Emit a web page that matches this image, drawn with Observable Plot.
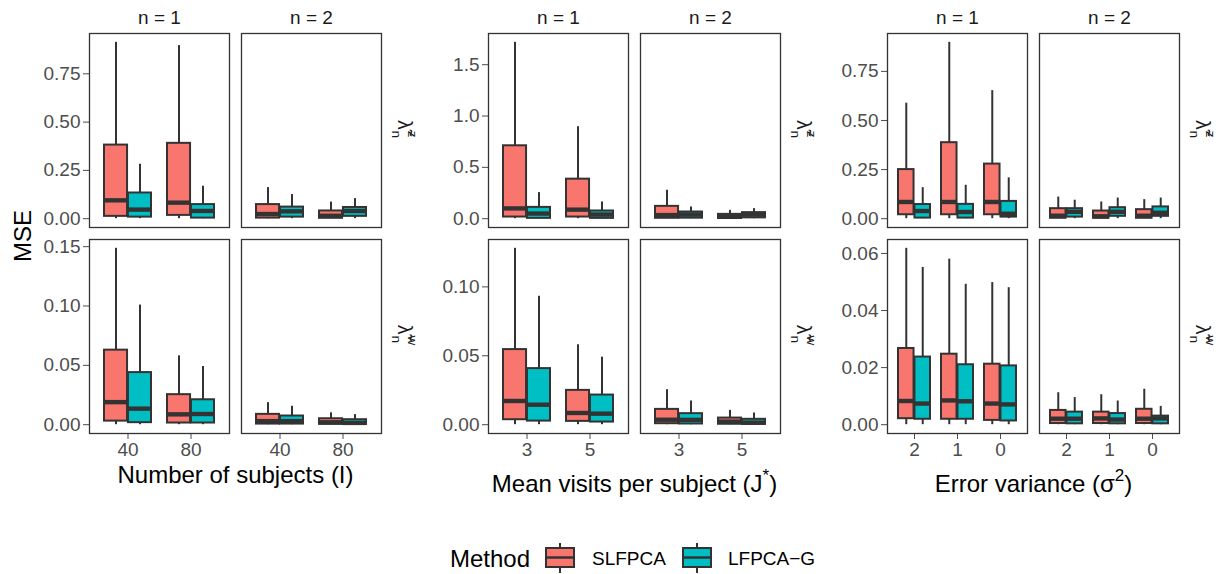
<!DOCTYPE html>
<html><head><meta charset="utf-8">
<script src="https://cdn.jsdelivr.net/npm/d3@7"></script>
<script src="https://cdn.jsdelivr.net/npm/@observablehq/plot@0.6"></script>
<style>
body{margin:0;background:#fff;font-family:"Liberation Sans",Arial,sans-serif;}
#root{position:relative;width:1223px;height:574px;overflow:hidden;background:#fff;}
.cell{position:absolute;}
.cell svg{overflow:visible;}
[aria-label^="fx-axis"] text{fill:#1A1A1A;}
</style></head><body><div id="root"></div>
<script>
// ---------------- data ----------------
const methods = ["SLFPCA", "LFPCA\u2212G"];
const nLevels = ["n = 1", "n = 2"];
const subjectLevels = ["40", "80"];
const visitLevels = ["3", "5"];
const errorLevels = ["2", "1", "0"];
// columns: n, level, method, lower whisker, q1, median, q3, upper whisker
const subjectsZ = [
  ["n = 1","40","SLFPCA",0,0.012,0.095,0.381,0.913],
  ["n = 1","40","LFPCA\u2212G",0,0.008,0.047,0.133,0.282],
  ["n = 1","80","SLFPCA",0,0.017,0.083,0.390,0.896],
  ["n = 1","80","LFPCA\u2212G",0,0.003,0.040,0.073,0.168],
  ["n = 2","40","SLFPCA",0,0.003,0.024,0.073,0.161],
  ["n = 2","40","LFPCA\u2212G",0,0.008,0.038,0.060,0.125],
  ["n = 2","80","SLFPCA",0,0.002,0.015,0.040,0.086],
  ["n = 2","80","LFPCA\u2212G",0,0.012,0.040,0.058,0.104]
];
const subjectsW = [
  ["n = 1","40","SLFPCA",0,0.0030,0.0190,0.0628,0.1486],
  ["n = 1","40","LFPCA\u2212G",0,0.0017,0.0135,0.0439,0.1008],
  ["n = 1","80","SLFPCA",0,0.0014,0.0087,0.0253,0.0580],
  ["n = 1","80","LFPCA\u2212G",0,0.0014,0.0090,0.0210,0.0490],
  ["n = 2","40","SLFPCA",0,0.0005,0.0030,0.0087,0.0186],
  ["n = 2","40","LFPCA\u2212G",0,0.0005,0.0030,0.0073,0.0155],
  ["n = 2","80","SLFPCA",0,0.0003,0.0020,0.0050,0.0100],
  ["n = 2","80","LFPCA\u2212G",0,0.0002,0.0015,0.0042,0.0085]
];
const visitsZ = [
  ["n = 1","3","SLFPCA",0,0.016,0.100,0.710,1.718],
  ["n = 1","3","LFPCA\u2212G",0,0.003,0.050,0.110,0.254],
  ["n = 1","5","SLFPCA",0,0.016,0.088,0.385,0.896],
  ["n = 1","5","LFPCA\u2212G",0,0.003,0.040,0.075,0.163],
  ["n = 2","3","SLFPCA",0,0.004,0.035,0.120,0.277],
  ["n = 2","3","LFPCA\u2212G",0,0.005,0.040,0.065,0.114],
  ["n = 2","5","SLFPCA",0,0.002,0.020,0.042,0.081],
  ["n = 2","5","LFPCA\u2212G",0,0.008,0.040,0.059,0.098]
];
const visitsW = [
  ["n = 1","3","SLFPCA",0,0.0036,0.0172,0.0545,0.1280],
  ["n = 1","3","LFPCA\u2212G",0,0.0026,0.0145,0.0407,0.0932],
  ["n = 1","5","SLFPCA",0,0.0024,0.0085,0.0249,0.0580],
  ["n = 1","5","LFPCA\u2212G",0,0.0019,0.0080,0.0215,0.0490],
  ["n = 2","3","SLFPCA",0,0.0007,0.0036,0.0111,0.0254],
  ["n = 2","3","LFPCA\u2212G",0,0.0005,0.0035,0.0080,0.0172],
  ["n = 2","5","SLFPCA",0,0.0003,0.0022,0.0048,0.0104],
  ["n = 2","5","LFPCA\u2212G",0,0.0002,0.0015,0.0039,0.0085]
];
const errorZ = [
  ["n = 1","2","SLFPCA",0,0.020,0.085,0.250,0.588],
  ["n = 1","2","LFPCA\u2212G",0,0.003,0.039,0.072,0.158],
  ["n = 1","1","SLFPCA",0,0.020,0.085,0.387,0.898],
  ["n = 1","1","LFPCA\u2212G",0,0.003,0.034,0.073,0.170],
  ["n = 1","0","SLFPCA",0,0.020,0.085,0.278,0.652],
  ["n = 1","0","LFPCA\u2212G",0,0.008,0.025,0.088,0.208],
  ["n = 2","2","SLFPCA",0,0.002,0.015,0.051,0.110],
  ["n = 2","2","LFPCA\u2212G",0,0.008,0.035,0.051,0.094],
  ["n = 2","1","SLFPCA",0,0.002,0.012,0.039,0.085],
  ["n = 2","1","LFPCA\u2212G",0,0.012,0.035,0.056,0.105],
  ["n = 2","0","SLFPCA",0,0.002,0.015,0.046,0.097],
  ["n = 2","0","LFPCA\u2212G",0,0.012,0.030,0.060,0.105]
];
const errorW = [
  ["n = 1","2","SLFPCA",0,0.0021,0.0083,0.0267,0.0618],
  ["n = 1","2","LFPCA\u2212G",0,0.0019,0.0074,0.0237,0.0551],
  ["n = 1","1","SLFPCA",0,0.0019,0.0085,0.0247,0.0580],
  ["n = 1","1","LFPCA\u2212G",0,0.0019,0.0082,0.0210,0.0492],
  ["n = 1","0","SLFPCA",0,0.0015,0.0074,0.0212,0.0498],
  ["n = 1","0","LFPCA\u2212G",0,0.0013,0.0071,0.0206,0.0480],
  ["n = 2","2","SLFPCA",0,0.0004,0.0021,0.0050,0.0112],
  ["n = 2","2","LFPCA\u2212G",0,0.0003,0.0021,0.0044,0.0095],
  ["n = 2","1","SLFPCA",0,0.0004,0.0022,0.0044,0.0105],
  ["n = 2","1","LFPCA\u2212G",0,0.0003,0.0018,0.0039,0.0083],
  ["n = 2","0","SLFPCA",0,0.0004,0.0021,0.0054,0.0124],
  ["n = 2","0","LFPCA\u2212G",0,0.0003,0.0022,0.0030,0.0064]
];
const methodColors = ["#F8766D", "#00BFC4"];

// ---------------- layout ----------------
const FONT = "Liberation Sans, Arial, Helvetica, sans-serif";
const panelW = 140.5, gap = 12, panelH = 194;
const toRows = a => a.map(([n, level, method, lo, q1, med, q3, hi]) => ({n, level, method, lo, q1, med, q3, hi}));

const groups = [
  {levels: subjectLevels, z: subjectsZ, w: subjectsW, svgLeft: 0, svgWidth: 410, panelLeft: 89,
   zTicks: [0, 0.25, 0.5, 0.75], zFmt: ".2f", wTicks: [0, 0.05, 0.1, 0.15], wFmt: ".2f"},
  {levels: visitLevels, z: visitsZ, w: visitsW, svgLeft: 410, svgWidth: 400, panelLeft: 488,
   zTicks: [0, 0.5, 1, 1.5], zFmt: ".1f", wTicks: [0, 0.05, 0.1], wFmt: ".2f"},
  {levels: errorLevels, z: errorZ, w: errorW, svgLeft: 810, svgWidth: 413, panelLeft: 887,
   zTicks: [0, 0.25, 0.5, 0.75], zFmt: ".2f", wTicks: [0, 0.02, 0.04, 0.06], wFmt: ".2f"}
];

const root = document.getElementById("root");

function makePanel(g, raw, ticks, fmt, isTop) {
  const rows = toRows(raw);
  const lo = d3.min(rows, d => d.lo), hi = d3.max(rows, d => d.hi);
  const pad = 0.05 * (hi - lo);
  const nLev = g.levels.length;
  const step = panelW / (nLev - 0.25 + 0.45);
  const bw = 0.75 * step;
  const top = isTop ? 0 : 232;
  const height = isTop ? 232 : 268;
  const marginTop = isTop ? 33 : 7;
  const marginBottom = height - marginTop - panelH;
  const marginLeft = g.panelLeft - g.svgLeft;
  const marginRight = g.svgWidth - marginLeft - (2 * panelW + gap);
  const marks = [];
  methods.forEach((m, i) => {
    const keep = d => d.method === m;
    const off = (i === 0 ? -1 : 1) * bw / 4;
    const insL = i === 0 ? 0 : bw / 2, insR = i === 0 ? bw / 2 : 0;
    marks.push(Plot.ruleX(rows, {filter: keep, x: "level", y1: "lo", y2: "hi", dx: off, stroke: "#333333", strokeWidth: 2}));
    marks.push(Plot.barY(rows, {filter: keep, x: "level", y1: "q1", y2: "q3", fill: "method", stroke: "#333333", strokeWidth: 2, insetLeft: insL, insetRight: insR}));
    marks.push(Plot.tickY(rows, {filter: keep, x: "level", y: "med", stroke: "#333333", strokeWidth: 4.4, insetLeft: insL, insetRight: insR}));
  });
  marks.push(Plot.frame({stroke: "#333333", strokeWidth: 1.3}));
  const chart = Plot.plot({
    width: g.svgWidth, height, marginTop, marginBottom, marginLeft, marginRight,
    style: {fontFamily: FONT, fontSize: "19px", color: "#4D4D4D", background: "transparent", overflow: "visible"},
    facet: {data: rows, x: "n"},
    fx: {domain: nLevels, paddingInner: gap / (panelW + gap), paddingOuter: 0, axis: isTop ? "top" : null, label: null, tickSize: 0, tickPadding: 10},
    x: {domain: g.levels, paddingInner: 0.25, paddingOuter: 0.225, axis: isTop ? null : "bottom", label: null, tickSize: 6, tickPadding: 3},
    y: {domain: [lo - pad, hi + pad], ticks, tickFormat: d3.format(fmt), label: null, tickSize: 6, tickPadding: 3, nice: false},
    color: {domain: methods, range: methodColors},
    marks
  });
  const div = document.createElement("div");
  div.className = "cell";
  div.style.left = g.svgLeft + "px";
  div.style.top = top + "px";
  div.appendChild(chart);
  root.appendChild(div);
}

groups.forEach(g => {
  makePanel(g, g.z, g.zTicks, g.zFmt, true);
  makePanel(g, g.w, g.wTicks, g.wFmt, false);
});

// ---------------- overlay texts: titles, strips, legend ----------------
const ov = d3.select(root).append("svg")
  .attr("width", 1223).attr("height", 574)
  .style("position", "absolute").style("left", 0).style("top", 0)
  .style("font-family", FONT);

ov.append("text").attr("transform", "translate(31,236) rotate(-90)")
  .attr("text-anchor", "middle").attr("font-size", 24).attr("fill", "#000").text("MSE");

const xTitles = [
  {cx: 89 + panelW + gap / 2, y: 483, parts: [["Number of subjects (I)"]]},
  {cx: 488 + panelW + gap / 2, y: 492, parts: [["Mean visits per subject (J"], ["*", "sup"], [")"]]},
  {cx: 887 + panelW + gap / 2, y: 492, parts: [["Error variance (\u03C3"], ["2", "sup"], [")"]]}
];
xTitles.forEach(t => {
  const el = ov.append("text").attr("x", t.cx).attr("y", t.y).attr("text-anchor", "middle")
    .attr("font-size", 24).attr("fill", "#000");
  let raised = false;
  t.parts.forEach(([s, kind]) => {
    const sp = el.append("tspan").text(s);
    if (kind === "sup") { sp.attr("font-size", 17).attr("dy", -11); raised = true; }
    else if (raised) { sp.attr("dy", 11); raised = false; }
  });
});

function strip(x, y, sup) {
  const t = ov.append("text").attr("transform", `translate(${x},${y}) rotate(90)`)
    .attr("text-anchor", "middle").attr("font-size", 19.5).attr("fill", "#1A1A1A");
  t.append("tspan").text("\u03BB\u0303");
  t.append("tspan").attr("font-size", 13.5).attr("dx", 1).attr("dy", 6).text("n");
  t.append("tspan").attr("font-size", 13.5).attr("dx", -7.5).attr("dy", -16).text(sup);
}
groups.forEach(g => {
  const right = g.panelLeft + 2 * panelW + gap;
  strip(right + 16, 33 + panelH / 2 - 1, "z");
  strip(right + 16, 239 + panelH / 2 - 1, "w");
});

// legend
ov.append("text").attr("x", 450).attr("y", 566.5).attr("font-size", 24).attr("fill", "#000").text("Method");
const keys = [{x: 546, tx: 592}, {x: 683, tx: 728}];
methods.forEach((m, i) => {
  const k = keys[i];
  const cx = k.x + 14;
  ov.append("line").attr("x1", cx).attr("x2", cx).attr("y1", 543).attr("y2", 573).attr("stroke", "#333333").attr("stroke-width", 2);
  ov.append("rect").attr("x", k.x).attr("y", 548).attr("width", 28).attr("height", 19)
    .attr("fill", methodColors[i]).attr("stroke", "#333333").attr("stroke-width", 2);
  ov.append("line").attr("x1", k.x).attr("x2", k.x + 28).attr("y1", 557.5).attr("y2", 557.5).attr("stroke", "#333333").attr("stroke-width", 2.5);
  ov.append("text").attr("x", k.tx).attr("y", 565).attr("font-size", 19).attr("fill", "#000").text(m);
});
</script></body></html>
